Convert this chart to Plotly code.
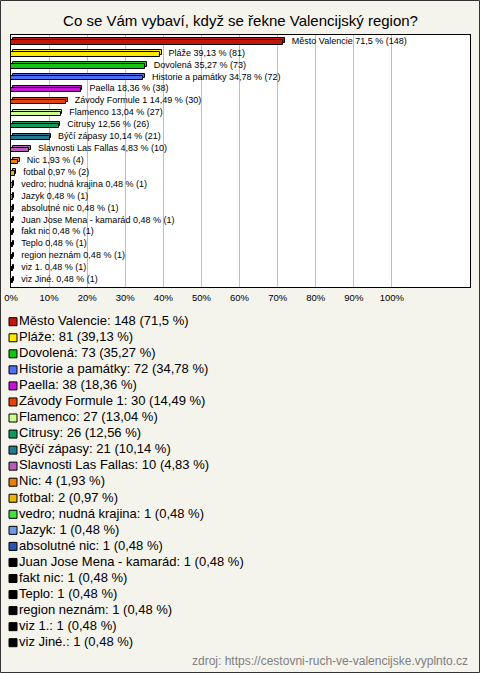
import plotly.graph_objects as go

categories = ["Město Valencie", "Pláže", "Dovolená", "Historie a památky", "Paella",
              "Závody Formule 1", "Flamenco", "Citrusy", "Býčí zápasy", "Slavnosti Las Fallas",
              "Nic", "fotbal", "vedro; nudná krajina", "Jazyk", "absolutné nic",
              "Juan Jose Mena - kamarád", "fakt nic", "Teplo", "region neznám", "viz 1.", "viz Jiné."]
counts = [148, 81, 73, 72, 38, 30, 27, 26, 21, 10, 4, 2, 1, 1, 1, 1, 1, 1, 1, 1, 1]
percents = [71.5, 39.13, 35.27, 34.78, 18.36, 14.49, 13.04, 12.56, 10.14, 4.83, 1.93, 0.97,
            0.48, 0.48, 0.48, 0.48, 0.48, 0.48, 0.48, 0.48, 0.48]
colors = ["#c4170c", "#ffe800", "#12c412", "#4d6ff2", "#c514d8", "#e6420c", "#cdfd8e",
          "#129a5c", "#1f7b8d", "#b85cb8", "#e8800c", "#e8b40a", "#46e040", "#6f9ae8",
          "#2a52b4", "#000000", "#000000", "#000000", "#000000", "#000000", "#000000"]
tick_vals = [0, 10, 20, 30, 40, 50, 60, 70, 80, 90, 100]
tick_text = ["0%", "10%", "20%", "30%", "40%", "50%", "60%", "70%", "80%", "90%", "100%"]
title = "Co se Vám vybaví, když se řekne Valencijský region?"
source = "zdroj: https://cestovni-ruch-ve-valencijske.vyplnto.cz"

FONT = "Liberation Sans, Arial, sans-serif"
BG = "#f4f3ec"
W, H = 480, 673
ML, MR, MT, MB = 11, 10, 35, 0
PW, PH = W - ML - MR, H - MT - MB

def fmt(p):
    return f"{p:g}".replace(".", ",")

idx = list(range(len(categories)))
bar_labels = [f"{c} {fmt(p)} % ({n})" for c, p, n in zip(categories, percents, counts)]
leg_labels = [f"{c}: {n} ({fmt(p)} %)" for c, p, n in zip(categories, percents, counts)]

def py(pix):
    return (H - MB - pix) / PH

fig = go.Figure()

# back (depth) face of the 3D bars
fig.add_trace(go.Bar(
    x=percents, y=idx, orientation="h", base=0.4, width=0.36, offset=-0.264,
    marker=dict(color=colors, line=dict(color="black", width=1)),
    hoverinfo="skip", showlegend=False))
# front face
fig.add_trace(go.Bar(
    x=percents, y=idx, orientation="h", width=0.36, offset=-0.096,
    marker=dict(color=colors, line=dict(color="black", width=1)),
    hoverinfo="skip", showlegend=False))
# bar labels
fig.add_trace(go.Scatter(
    x=percents, y=idx, mode="markers+text", text=bar_labels, textposition="middle right",
    marker=dict(size=12, color="rgba(0,0,0,0)"),
    textfont=dict(family=FONT, size=9, color="black"),
    hoverinfo="skip", showlegend=False, cliponaxis=False))

# custom legend
fig.add_trace(go.Scatter(
    x=[13] * len(idx), y=idx, mode="markers+text", text=leg_labels,
    textposition="middle right",
    marker=dict(symbol="square", size=8, color=colors, line=dict(color="black", width=1)),
    textfont=dict(family=FONT, size=13, color="black"),
    xaxis="x2", yaxis="y2", hoverinfo="skip", showlegend=False, cliponaxis=False))

fig.update_layout(
    width=W, height=H,
    margin=dict(l=ML, r=MR, t=MT, b=MB, pad=0),
    paper_bgcolor=BG, plot_bgcolor=BG,
    font=dict(family=FONT, color="black"),
    bargap=0, barmode="overlay",
    title=dict(text=title, x=0.5, xanchor="center", xref="paper",
               y=1 - 20.5 / H, yanchor="middle", yref="container",
               font=dict(family=FONT, size=15, color="black")),
    xaxis=dict(range=[0, 120.5], tickvals=tick_vals, ticktext=tick_text,
               showgrid=True, gridcolor="#c0c0c0", gridwidth=1, zeroline=False,
               showline=True, linecolor="black", linewidth=1, mirror=True,
               ticks="outside", ticklen=2, tickcolor="rgba(0,0,0,0)",
               tickfont=dict(family=FONT, size=9.5, color="black"),
               fixedrange=True, anchor="y"),
    yaxis=dict(range=[20.6, -0.55], domain=[py(287), 1], showticklabels=False,
               showgrid=False, zeroline=False, showline=True, linecolor="black",
               linewidth=1, mirror=True, ticks="", fixedrange=True, anchor="x"),
    xaxis2=dict(range=[ML, W - MR], domain=[0, 1], visible=False, anchor="y2",
                fixedrange=True),
    yaxis2=dict(range=[20.766, -0.729], domain=[py(655), py(310)], visible=False,
                anchor="x2", fixedrange=True),
    annotations=[dict(text=source, xref="paper", yref="paper", x=1, y=py(661),
                      xanchor="right", yanchor="middle", showarrow=False,
                      font=dict(family=FONT, size=12, color="#808080"))],
    shapes=[
        dict(type="rect", xref="x domain", yref="y domain", x0=0, x1=1, y0=0, y1=1,
             line=dict(width=0), fillcolor="white", layer="below"),
        dict(type="rect", xref="paper", yref="paper",
             x0=(0.5 - ML) / PW, x1=(W - 0.5 - ML) / PW,
             y0=py(H - 0.5), y1=py(0.5),
             line=dict(color="#333333", width=1), fillcolor="rgba(0,0,0,0)",
             layer="above")],
)

fig.write_html("out.html", config={"displayModeBar": False})
with open("out.html", "r", encoding="utf-8") as f:
    html = f.read()
html = html.replace("<head>", "<head><style>html,body{margin:0;padding:0;overflow:hidden;}</style>", 1)
with open("out.html", "w", encoding="utf-8") as f:
    f.write(html)
